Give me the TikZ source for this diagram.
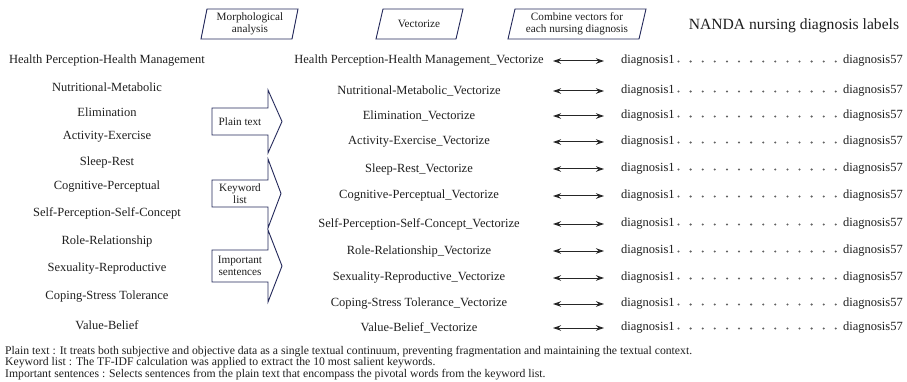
\documentclass[tikz,border=0pt]{standalone}
\usepackage{fontspec}
\setmainfont{Liberation Serif}
\usetikzlibrary{arrows.meta}
\definecolor{navy}{RGB}{35,40,90}
\definecolor{txt}{RGB}{30,30,30}
\begin{document}
\begin{tikzpicture}[x=1pt,y=-1pt,
  lab/.style={font=\fontsize{12.5}{14}\selectfont, inner sep=0pt, text=txt},
  small/.style={font=\fontsize{11.2}{11.6}\selectfont, inner sep=0pt, align=center, text=txt},
  note/.style={font=\fontsize{11.7}{12}\selectfont, inner sep=0pt, anchor=base west, text=txt},
  para/.style={draw=navy, line width=0.9pt, fill=white, line join=miter},
  blk/.style={draw=navy, line width=0.9pt, fill=white, line join=miter},
  dbl/.style={{Stealth[length=8pt,width=5.5pt]}-{Stealth[length=8pt,width=5.5pt]}, line width=1pt, draw=black!85},
  dotc/.style={fill=txt!70},
]
\useasboundingbox (0,0) rectangle (907,382);

% top parallelograms
\draw[para] (201,39) -- (207,9) -- (298,9) -- (292,39) -- cycle;
\node[small] (morph) at (250,24) {Morphological\\analysis};
\draw[para] (376,39) -- (383,9) -- (463,9) -- (456,39) -- cycle;
\node[small] (vec) at (419,24) {Vectorize};
\draw[para] (508,39) -- (515,9) -- (646,9) -- (639,39) -- cycle;
\node[small] (comb) at (577,24) {Combine vectors for\\each nursing diagnosis};
\node[font=\fontsize{15.6}{18}\selectfont, inner sep=0pt, text=txt] (nanda) at (794,26) {NANDA nursing diagnosis labels};

% block arrows
\draw[blk] (212,108) -- (268,108) -- (268,90) -- (282,121.5) -- (268,153) -- (268,135) -- (212,135) -- cycle;
\node[small] (plain) at (240,121.5) {Plain text};
\draw[blk] (212,180) -- (268,180) -- (268,159) -- (281,193.5) -- (268,228) -- (268,207) -- (212,207) -- cycle;
\node[small] (kw) at (240,193.5) {Keyword\\list};
\draw[blk] (212,250) -- (268,250) -- (268,230) -- (282,266) -- (268,302) -- (268,282) -- (212,282) -- cycle;
\node[small] (imp) at (240,266) {Important\\sentences};

% rows
\foreach \t/\ly/\my [count=\i] in {
  Health Perception-Health Management/61/61,
  Nutritional-Metabolic/87/91,
  Elimination/112/116,
  Activity-Exercise/137/142,
  Sleep-Rest/162/169,
  Cognitive-Perceptual/187/196,
  Self-Perception-Self-Concept/213/224,
  Role-Relationship/241/251,
  Sexuality-Reproductive/269/278,
  Coping-Stress Tolerance/297/304,
  Value-Belief/325/328}{
  \node[lab] (L\i) at (107,\ly) {\t};
  \node[lab] (M\i) at (419,\my) {\t\_Vectorize};
  \coordinate (a\i) at (553,\my);
  \coordinate (b\i) at (604,\my);
  \draw[dbl] (a\i) -- (b\i);
  \node[lab, anchor=west] (D\i) at (621,\my) {diagnosis1};
  \node[lab, anchor=east] (E\i) at (903,\my) {diagnosis57};
  \foreach \k in {0,...,13}{
    \fill[dotc] (678.5+\k*12.1,\my+0.5) circle (1.15);
  }
}

% notes
\node[note] (n1) at (5,354) {Plain text : It treats both subjective and objective data as a single textual continuum, preventing fragmentation and maintaining the textual context.};
\node[note] (n2) at (5,365.5) {Keyword list : The TF-IDF calculation was applied to extract the 10 most salient keywords.};
\node[note] (n3) at (5,377) {Important sentences : Selects sentences from the plain text that encompass the pivotal words from the keyword list.};
\end{tikzpicture}
\end{document}
